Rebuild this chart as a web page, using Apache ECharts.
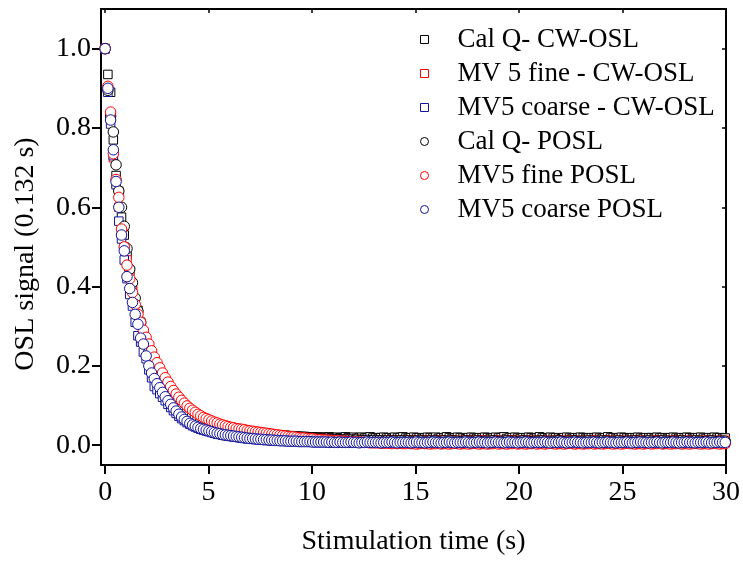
<!DOCTYPE html>
<html>
<head>
<meta charset="utf-8">
<script src="https://cdn.jsdelivr.net/npm/echarts@6/dist/echarts.min.js"></script>
<style>
html,body{margin:0;padding:0;background:#fff;}
#chart{width:743px;height:561px;}
</style>
</head>
<body>
<div id="chart"></div>
<script>
// Channel width (s) of each data point
const CHANNEL = 0.132;
const xTicks = [0, 5, 10, 15, 20, 25, 30];
const yTicks = [0, 0.2, 0.4, 0.6, 0.8, 1.0];
const seriesNames = ['Cal Q- CW-OSL', 'MV 5 fine - CW-OSL', 'MV5 coarse - CW-OSL', 'Cal Q- POSL', 'MV5 fine POSL', 'MV5 coarse POSL'];

// Cal Q- CW-OSL (black squares)
const calQ_CW = [
1,.935,.890,.770,.680,.640,.575,.530,.480,.440,.400,.365,.340,.310,.285,.260,.240,.220,.200,.185,
.170,.158,.147,.137,.128,.120,.113,.106,.100,.094,.089,.084,.080,.076,.072,.068,.065,.062,.059,.056,
.054,.052,.050,.048,.046,.044,.043,.041,.040,.038,.037,.036,.035,.034,.033,.032,.031,.030,.030,.029,
.028,.028,.027,.026,.026,.025,.025,.024,.024,.023,.023,.022,.022,.022,.021,.021,.021,.020,.020,.020,
.020,.019,.021,.019,.018,.020,.019,.018,.021,.019,.018,.020,.017,.019,.020,.018,.019,.021,.018,.019,
.017,.019,.020,.018,.019,.017,.020,.018,.019,.021,.018,.017,.019,.020,.018,.019,.017,.018,.020,.019,
.018,.020,.017,.019,.018,.021,.019,.017,.018,.020,.019,.018,.016,.019,.020,.018,.017,.019,.018,.020,
.019,.017,.018,.020,.018,.019,.021,.017,.018,.019,.020,.018,.017,.019,.018,.020,.019,.017,.018,.021,
.018,.019,.017,.020,.018,.019,.018,.016,.019,.020,.018,.017,.019,.018,.020,.019,.017,.018,.019,.018,
.020,.018,.017,.019,.021,.018,.019,.017,.018,.020,.019,.018,.017,.019,.018,.020,.018,.017,.019,.018,
.019,.017,.020,.018,.019,.018,.017,.019,.020,.018,.017,.019,.018,.020,.019,.017,.018,.019,.020,.018,
.017,.019,.018,.020,.018,.019,.017,.018
];

// MV 5 fine - CW-OSL (red squares)
const mv5Fine_CW = [
1,.900,.830,.725,.660,.600,.545,.500,.467,.425,.390,.360,.330,.305,.285,.265,.245,.228,.212,.197,
.183,.171,.160,.150,.140,.131,.123,.115,.108,.101,.095,.089,.084,.079,.075,.071,.067,.064,.061,.058,
.055,.053,.051,.049,.047,.045,.043,.042,.040,.039,.037,.036,.035,.034,.033,.032,.031,.030,.029,.028,
.027,.026,.026,.025,.024,.024,.023,.022,.022,.021,.021,.020,.020,.019,.019,.018,.018,.018,.017,.017,
.017,.016,.016,.016,.015,.015,.015,.014,.015,.014,.014,.013,.014,.013,.014,.013,.013,.012,.013,.013,
.012,.013,.012,.011,.013,.012,.012,.011,.013,.012,.011,.012,.013,.012,.011,.012,.012,.013,.011,.012,
.012,.011,.013,.012,.012,.011,.012,.013,.012,.011,.012,.012,.011,.013,.012,.012,.011,.012,.013,.012,
.011,.012,.012,.013,.011,.012,.012,.011,.012,.013,.012,.011,.012,.012,.013,.011,.012,.012,.011,.012,
.013,.012,.011,.012,.012,.011,.013,.012,.012,.011,.012,.013,.012,.011,.012,.012,.011,.012,.013,.012,
.012,.011,.012,.013,.012,.011,.012,.012,.013,.011,.012,.012,.011,.012,.013,.012,.012,.011,.012,.012,
.011,.012,.013,.012,.012,.011,.012,.012,.011,.013,.012,.012,.011,.012,.012,.013,.011,.012,.012,.011,
.012,.013,.012,.011,.012,.012,.011,.012
];

// MV5 coarse - CW-OSL (blue squares)
const mv5Coarse_CW = [
1,.890,.810,.730,.657,.565,.520,.467,.420,.380,.351,.310,.276,.260,.235,.218,.190,.170,.148,.140,
.130,.121,.112,.103,.095,.087,.080,.073,.067,.062,.057,.053,.049,.046,.043,.040,.038,.036,.034,.032,
.030,.028,.027,.025,.024,.023,.022,.021,.020,.019,.018,.017,.016,.016,.015,.014,.014,.013,.013,.012,
.012,.011,.011,.011,.010,.010,.010,.009,.009,.009,.009,.008,.008,.008,.008,.008,.007,.007,.007,.007,
.007,.007,.006,.007,.006,.006,.007,.006,.006,.006,.007,.006,.006,.005,.006,.006,.007,.006,.006,.006,
.006,.005,.006,.006,.007,.006,.006,.005,.006,.006,.006,.007,.006,.005,.006,.006,.006,.005,.006,.007,
.006,.006,.005,.006,.006,.007,.006,.005,.006,.006,.006,.005,.006,.007,.006,.006,.005,.006,.006,.006,
.005,.006,.006,.007,.006,.005,.006,.006,.006,.005,.006,.007,.006,.006,.005,.006,.006,.006,.007,.005,
.006,.006,.005,.006,.007,.006,.006,.005,.006,.006,.006,.007,.005,.006,.006,.006,.005,.006,.007,.006,
.006,.005,.006,.006,.006,.007,.006,.005,.006,.006,.005,.006,.007,.006,.006,.005,.006,.006,.006,.007,
.005,.006,.006,.006,.007,.005,.006,.006,.005,.006,.006,.007,.006,.005,.006,.006,.006,.005,.006,.007,
.006,.006,.005,.006,.006,.007,.006,.006
];

// Cal Q- POSL (black circles)
const calQ_POSL = [
1,.895,.830,.790,.707,.641,.600,.552,.496,.444,.410,.371,.338,.309,.280,.260,.235,.215,.195,.180,
.165,.153,.142,.132,.123,.115,.108,.101,.095,.089,.084,.079,.075,.071,.067,.064,.061,.058,.055,.053,
.050,.048,.046,.044,.042,.041,.039,.038,.036,.035,.034,.033,.032,.031,.030,.029,.028,.027,.027,.026,
.025,.024,.024,.023,.022,.022,.021,.021,.020,.020,.019,.019,.018,.018,.018,.017,.017,.016,.016,.016,
.015,.015,.015,.014,.014,.014,.014,.013,.013,.013,.013,.012,.013,.012,.012,.012,.012,.011,.012,.011,
.011,.011,.010,.011,.011,.010,.011,.010,.011,.011,.010,.011,.010,.010,.011,.010,.011,.010,.010,.011,
.010,.011,.010,.010,.011,.010,.010,.011,.010,.010,.009,.010,.011,.010,.010,.010,.011,.010,.009,.010,
.010,.010,.011,.010,.009,.010,.010,.011,.010,.010,.010,.009,.010,.011,.010,.010,.009,.010,.010,.010,
.011,.010,.009,.010,.010,.010,.011,.010,.009,.010,.010,.010,.011,.009,.010,.010,.010,.011,.010,.009,
.010,.010,.011,.010,.010,.009,.010,.010,.011,.010,.009,.010,.010,.010,.011,.010,.009,.010,.010,.011,
.010,.009,.010,.010,.011,.010,.010,.009,.010,.010,.010,.011,.010,.009,.010,.010,.011,.010,.010,.009,
.010,.010,.011,.010,.009,.010,.010,.010
];

// MV5 fine POSL (red circles)
const mv5Fine_POSL = [
1,.905,.840,.735,.670,.625,.545,.500,.454,.420,.385,.355,.330,.310,.290,.272,.255,.238,.222,.208,
.195,.182,.170,.159,.148,.138,.129,.121,.113,.106,.099,.093,.088,.083,.078,.074,.070,.067,.064,.061,
.058,.056,.053,.051,.049,.047,.045,.044,.042,.041,.040,.039,.037,.036,.035,.034,.033,.032,.031,.030,
.029,.028,.027,.026,.025,.024,.023,.022,.021,.021,.020,.019,.018,.018,.017,.016,.016,.015,.014,.014,
.013,.013,.012,.012,.011,.011,.010,.010,.009,.009,.009,.008,.008,.008,.007,.007,.007,.006,.006,.006,
.006,.005,.005,.005,.005,.004,.005,.004,.005,.004,.004,.005,.004,.004,.003,.004,.005,.004,.004,.003,
.004,.004,.005,.003,.004,.004,.003,.004,.005,.004,.003,.004,.004,.003,.004,.005,.004,.003,.004,.004,
.003,.004,.004,.005,.003,.004,.004,.003,.004,.004,.005,.003,.004,.004,.003,.004,.004,.005,.003,.004,
.004,.003,.004,.005,.004,.003,.004,.004,.003,.004,.005,.004,.003,.004,.004,.003,.004,.004,.005,.003,
.004,.004,.003,.004,.005,.004,.003,.004,.004,.003,.004,.005,.004,.004,.003,.004,.004,.003,.004,.005,
.003,.004,.004,.005,.003,.004,.004,.003,.004,.004,.005,.003,.004,.004,.003,.004,.005,.004,.003,.004,
.004,.003,.004,.005,.004,.003,.004,.004
];

// MV5 coarse POSL (blue circles)
const mv5Coarse_POSL = [
1,.900,.820,.745,.665,.600,.530,.490,.425,.395,.360,.330,.305,.270,.255,.225,.200,.182,.168,.155,
.145,.133,.122,.112,.103,.094,.086,.078,.071,.065,.060,.055,.051,.048,.045,.042,.040,.038,.036,.034,
.032,.030,.029,.027,.026,.025,.024,.023,.022,.021,.020,.019,.018,.017,.017,.016,.015,.015,.014,.014,
.013,.013,.012,.012,.011,.011,.011,.010,.010,.010,.010,.009,.009,.009,.009,.009,.008,.008,.008,.008,
.008,.008,.007,.008,.007,.007,.008,.007,.007,.007,.008,.007,.007,.006,.007,.007,.008,.007,.007,.007,
.007,.006,.007,.007,.007,.008,.007,.006,.007,.007,.007,.007,.006,.007,.008,.007,.007,.006,.007,.007,
.008,.007,.007,.006,.007,.007,.008,.007,.006,.007,.007,.007,.008,.007,.006,.007,.007,.008,.007,.007,
.006,.007,.007,.008,.007,.007,.006,.007,.008,.007,.007,.006,.007,.007,.008,.007,.006,.007,.007,.007,
.007,.008,.007,.006,.007,.007,.007,.008,.007,.006,.007,.007,.008,.007,.007,.006,.007,.007,.007,.008,
.007,.006,.007,.007,.008,.007,.007,.006,.007,.007,.007,.008,.007,.006,.007,.007,.008,.007,.007,.006,
.007,.007,.008,.007,.006,.007,.007,.007,.008,.007,.006,.007,.007,.008,.007,.007,.006,.007,.007,.007,
.008,.007,.006,.007,.007,.008,.007,.007
];

const FONT = '"Liberation Serif", "Times New Roman", serif';
const BLACK = '#000000', RED = '#ff0000', BLUE = '#12129a';

function pts(vals) {
  return vals.map((v, i) => [i * CHANNEL, v]);
}
function mkSeries(name, vals, symbol, color) {
  return {
    name: name,
    type: 'scatter',
    symbol: symbol,
    symbolSize: symbol === 'circle' ? 10.5 : 8.5,
    itemStyle: { color: '#ffffff', borderColor: color, borderWidth: 1, opacity: 1 },
    emphasis: { disabled: true },
    data: pts(vals),
    xAxisIndex: 0,
    yAxisIndex: 0
  };
}

const chart = echarts.init(document.getElementById('chart'), null, { renderer: 'canvas' });
chart.setOption({
  animation: false,
  backgroundColor: '#ffffff',
  grid: { left: 101, right: 11, top: 9, bottom: 91, containLabel: false },
  legend: {
    orient: 'vertical',
    left: 415,
    top: 21,
    itemWidth: 8,
    itemHeight: 8,
    itemGap: 7,
    selectedMode: false,
    itemStyle: { borderWidth: 1 },
    textStyle: { fontFamily: FONT, fontSize: 27, color: '#000', padding: [0, 0, 0, 24], lineHeight: 27 },
    data: seriesNames
  },
  xAxis: [{
    type: 'value', min: -0.2, max: 30, position: 'bottom',
    name: 'Stimulation time (s)', nameLocation: 'middle', nameGap: 63,
    nameTextStyle: { fontFamily: FONT, fontSize: 28, color: '#000' },
    axisLine: { show: true, onZero: false, lineStyle: { color: '#000', width: 2 } },
    axisTick: { show: true, inside: false, length: 9, customValues: xTicks, lineStyle: { color: '#000', width: 2 } },
    axisLabel: { show: true, customValues: xTicks, fontFamily: FONT, fontSize: 28, color: '#000', margin: 14 },
    splitLine: { show: false }
  }, {
    type: 'value', min: -0.2, max: 30, position: 'top',
    axisLine: { show: true, onZero: false, lineStyle: { color: '#000', width: 2 } },
    axisTick: { show: true, inside: true, length: 4, customValues: xTicks, lineStyle: { color: '#000', width: 1.5 } },
    axisLabel: { show: false },
    splitLine: { show: false }
  }],
  yAxis: [{
    type: 'value', min: -0.05, max: 1.1, position: 'left',
    name: 'OSL signal (0.132 s)', nameLocation: 'middle', nameGap: 61,
    nameTextStyle: { fontFamily: FONT, fontSize: 28, color: '#000', padding: [0, 34, 0, 0] },
    axisLine: { show: true, onZero: false, lineStyle: { color: '#000', width: 2 } },
    axisTick: { show: true, inside: false, length: 9, customValues: yTicks, lineStyle: { color: '#000', width: 2 } },
    axisLabel: { show: true, customValues: yTicks, fontFamily: FONT, fontSize: 28, color: '#000', margin: 10,
      formatter: v => Number(v).toFixed(1) },
    splitLine: { show: false }
  }, {
    type: 'value', min: -0.05, max: 1.1, position: 'right',
    axisLine: { show: true, onZero: false, lineStyle: { color: '#000', width: 2 } },
    axisTick: { show: true, inside: true, length: 4, customValues: yTicks, lineStyle: { color: '#000', width: 1.5 } },
    axisLabel: { show: false },
    splitLine: { show: false }
  }],
  series: [
    mkSeries(seriesNames[0], calQ_CW, 'rect', BLACK),
    mkSeries(seriesNames[1], mv5Fine_CW, 'rect', RED),
    mkSeries(seriesNames[2], mv5Coarse_CW, 'rect', BLUE),
    mkSeries(seriesNames[3], calQ_POSL, 'circle', BLACK),
    mkSeries(seriesNames[4], mv5Fine_POSL, 'circle', RED),
    mkSeries(seriesNames[5], mv5Coarse_POSL, 'circle', BLUE)
  ]
});
</script>
</body>
</html>
